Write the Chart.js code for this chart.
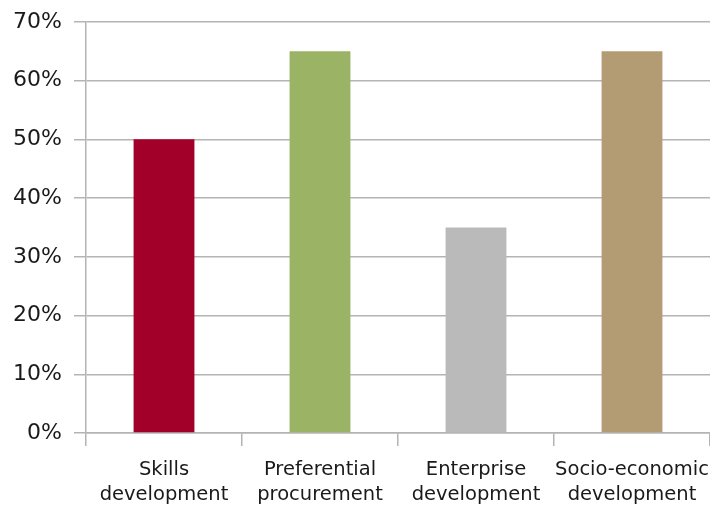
<!DOCTYPE html>
<html>
<head>
<meta charset="utf-8">
<script src="https://cdn.jsdelivr.net/npm/chart.js@4/dist/chart.umd.min.js"></script>
<style>
  html, body { margin: 0; padding: 0; background: #fff; }
  #wrap { width: 710px; height: 505px; }
</style>
</head>
<body>
<div id="wrap"><canvas id="barChart"></canvas></div>
<script>
const categories = [
  ['Skills', 'development'],
  ['Preferential', 'procurement'],
  ['Enterprise', 'development'],
  ['Socio-economic', 'development']
];
const shares = [50, 65, 35, 65];
const barColors = ['#a30029', '#9bb365', '#bababa', '#b39c74'];
const yTicks = [0, 10, 20, 30, 40, 50, 60, 70];

const gridGray = '#b4b4b4';

document.addEventListener('DOMContentLoaded', () => {
  const ctx = document.getElementById('barChart').getContext('2d');
  new Chart(ctx, {
    type: 'bar',
    data: {
      labels: categories,
      datasets: [{
        data: shares,
        backgroundColor: barColors,
        barPercentage: 0.39,
        categoryPercentage: 1
      }]
    },
    options: {
      responsive: true,
      maintainAspectRatio: false,
      animation: false,
      layout: { padding: { top: 7, right: 0, left: 0, bottom: 0 } },
      plugins: {
        legend: { display: false },
        tooltip: { enabled: false }
      },
      scales: {
        x: {
          grid: {
            offset: true,
            drawOnChartArea: false,
            tickLength: 13,
            color: gridGray,
            lineWidth: 1.5
          },
          border: { color: gridGray, width: 1.5 },
          ticks: {
            autoSkip: false,
            padding: 11,
            color: '#1a1a1a',
            font: { family: 'DejaVu Sans', size: 19.5, lineHeight: 1.28 },
            maxRotation: 0
          },
          afterFit: scale => {
            scale.height = 72;
            // let the last label run to the canvas edge
            scale.paddingLeft = 0;
            scale.paddingRight = 0;
          }
        },
        y: {
          min: 0,
          max: 70,
          afterBuildTicks: scale => {
            scale.ticks = yTicks.map(v => ({ value: v }));
          },
          grid: {
            color: gridGray,
            lineWidth: 1.5,
            tickLength: 12
          },
          border: { color: gridGray, width: 1.5 },
          ticks: {
            padding: 12,
            color: '#1a1a1a',
            font: { family: 'DejaVu Sans', size: 22, lineHeight: 0.9 },
            callback: v => v + '%'
          },
          afterFit: scale => { scale.width = 86; }
        }
      }
    }
  });
});
</script>
</body>
</html>
